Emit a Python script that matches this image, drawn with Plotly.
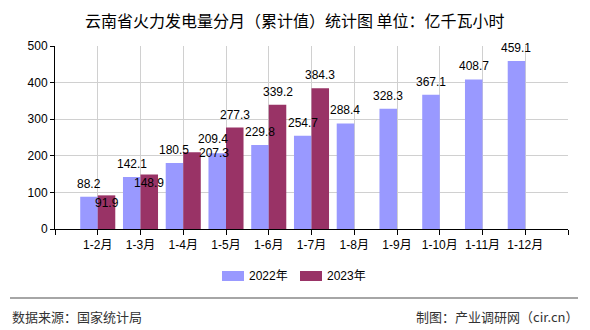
import plotly.graph_objects as go

categories = ["1-2月", "1-3月", "1-4月", "1-5月", "1-6月", "1-7月", "1-8月", "1-9月", "1-10月", "1-11月", "1-12月"]
values_2022 = [88.2, 142.1, 180.5, 207.3, 229.8, 254.7, 288.4, 328.3, 367.1, 408.7, 459.1]
values_2023 = [91.9, 148.9, 209.4, 277.3, 339.2, 384.3]
series_names = ["2022年", "2023年"]
y_ticks = [0, 100, 200, 300, 400, 500]

# styles
W, H = 590, 330
ML, MR, MT, MB = 55, 22, 46, 101
colors = ["#9999FF", "#993366"]
bargap = 0.18
font_fam = "Liberation Sans, Noto Sans CJK SC, sans-serif"
label_shift_2022 = {3: (-3, 0)}
label_shift_2023 = {0: (0, -8), 1: (0, -8), 2: (21, 13)}


def px(x):
    return (x - ML) / (W - ML - MR)


def py(y):
    return (H - MB - y) / (H - MT - MB)


idx = list(range(len(categories)))
n = len(categories)
half = (1 - bargap) / 4

fig = go.Figure()
fig.add_trace(go.Bar(x=idx, y=values_2022, name=series_names[0], marker_color=colors[0],
                     marker_line_width=0, showlegend=False))
fig.add_trace(go.Bar(x=idx[:len(values_2023)], y=values_2023, name=series_names[1],
                     marker_color=colors[1], marker_line_width=0, showlegend=False))

annotations = []
for series, off, shifts in [(values_2022, -half, label_shift_2022), (values_2023, half, label_shift_2023)]:
    for i, v in enumerate(series):
        xs, ys = shifts.get(i, (0, 13))
        annotations.append(dict(x=idx[i] + off, y=v, xref="x", yref="y", text=f"{v:.1f}",
                                showarrow=False, xshift=xs, yshift=ys, yanchor="middle",
                                font=dict(size=12, color="#000000", family=font_fam)))

annotations.append(dict(x=px(295), y=py(20), xref="paper", yref="paper", xanchor="center", yanchor="middle",
                        text="云南省火力发电量分月（累计值）统计图 单位：亿千瓦小时", showarrow=False,
                        font=dict(size=16, color="#000000", family="Noto Sans CJK SC")))
annotations.append(dict(x=px(10), y=py(316), xref="paper", yref="paper", xanchor="left", yanchor="middle",
                        text="数据来源：国家统计局", showarrow=False,
                        font=dict(size=13, color="#333333", family="Noto Sans CJK SC")))
annotations.append(dict(x=px(580), y=py(316), xref="paper", yref="paper", xanchor="right", yanchor="middle",
                        text="制图：产业调研网（cir.cn）", showarrow=False,
                        font=dict(size=13, color="#333333", family="Noto Sans CJK SC")))

shapes = [dict(type="line", xref="paper", yref="paper", x0=px(10), x1=px(578),
               y0=py(298), y1=py(298), line=dict(color="#888888", width=1.5))]

leg_items = [(222, series_names[0], colors[0]), (300, series_names[1], colors[1])]
for lx, name, c in leg_items:
    shapes.append(dict(type="rect", xref="paper", yref="paper", x0=px(lx), x1=px(lx + 22),
                       y0=py(281), y1=py(271), fillcolor=c, line=dict(width=0)))
    annotations.append(dict(x=px(lx + 25), y=py(276), xref="paper", yref="paper",
                            xanchor="left", yanchor="middle", text=name, showarrow=False,
                            font=dict(size=12, color="#000000", family=font_fam)))

fig.update_layout(
    width=W, height=H,
    margin=dict(l=ML, r=MR, t=MT, b=MB),
    paper_bgcolor="white", plot_bgcolor="white",
    barmode="group", bargap=bargap, bargroupgap=0,
    annotations=annotations, shapes=shapes,
    font=dict(family=font_fam, size=12, color="#000000"),
)
fig.update_xaxes(range=[-1, n], tickmode="array", tickvals=list(range(-1, n + 1)),
                 ticktext=[""] + categories + [""], showgrid=True, gridcolor="#D0D0D0", gridwidth=1,
                 showline=True, linecolor="#000000", linewidth=1, ticks="outside", ticklen=5,
                 tickcolor="#000000", zeroline=False, tickfont=dict(size=12))
fig.update_yaxes(range=[0, 500], tickvals=y_ticks, showgrid=True, gridcolor="#D0D0D0", gridwidth=1,
                 showline=True, linecolor="#000000", linewidth=1, ticks="outside", ticklen=4,
                 tickcolor="#000000", zeroline=False, tickfont=dict(size=12))

fig.write_html("out.html")
